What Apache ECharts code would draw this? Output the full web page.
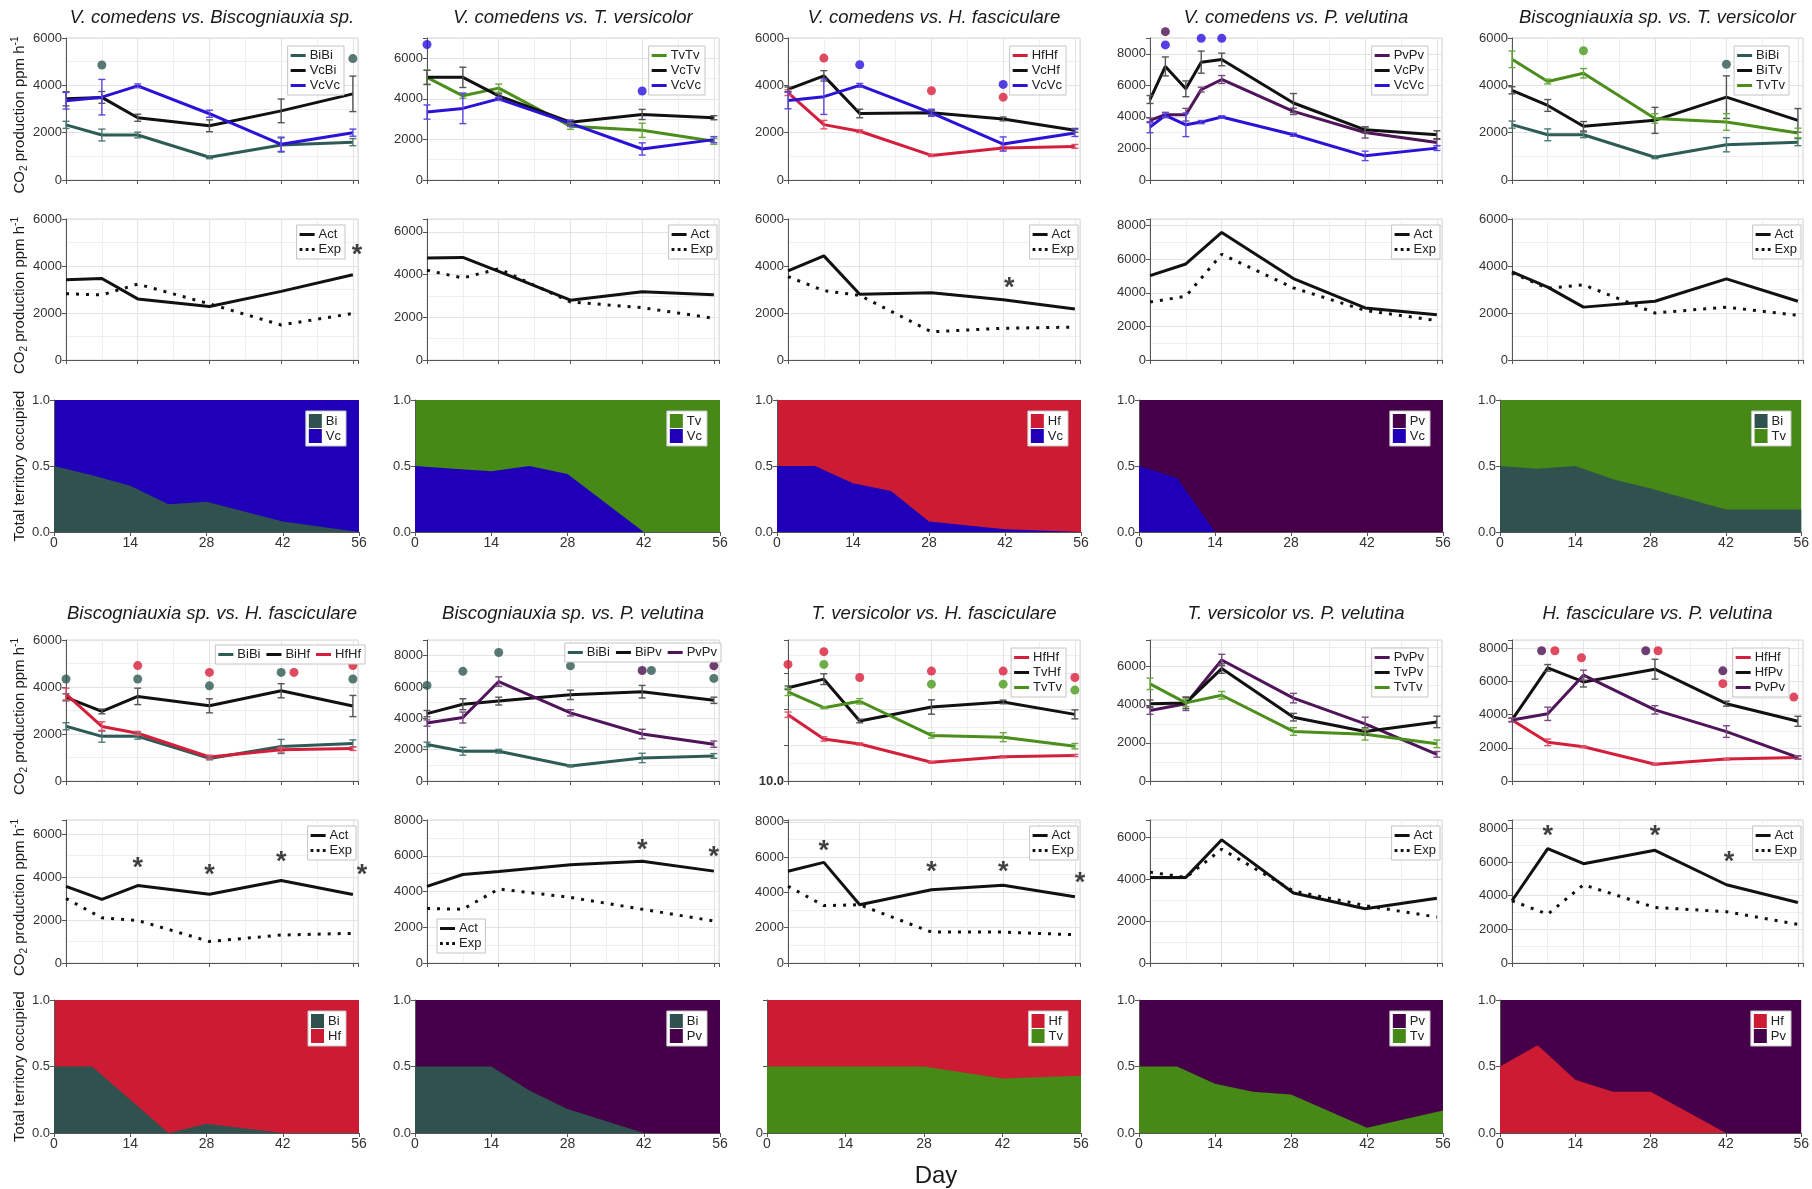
<!DOCTYPE html>
<html><head><meta charset="utf-8">
<script src="https://cdn.jsdelivr.net/npm/echarts@6/dist/echarts.min.js"></script>
<style>html,body{margin:0;padding:0;background:#fff}#c{width:1812px;height:1189px}</style>
</head><body><div id="c"></div>
<script>
// ---------------- DATA ----------------
const days = [0, 7, 14, 28, 42, 56];
const daysVcPv = [0, 3, 7, 10, 14, 28, 42, 56];
const tDays = [0, 7, 14, 21, 28, 42, 56];
const xTicks = [0, 14, 28, 42, 56];

// Panel 1: V. comedens vs. Biscogniauxia sp.
const p1_BiBi = [2330, 1900, 1900, 960, 1480, 1600];
const p1_BiBi_err = [150, 250, 120, 60, 300, 150];
const p1_VcBi = [3430, 3490, 2630, 2290, 2920, 3640];
const p1_VcBi_err = [300, 250, 150, 250, 500, 750];
const p1_VcVc = [3350, 3500, 3980, 2800, 1510, 2000];
const p1_VcVc_err = [350, 750, 80, 150, 300, 150];
const p1_dots = [[7, 4860, 'Bi'], [56, 5130, 'Bi']];
const p1_act = [3410, 3470, 2600, 2280, 2920, 3630];
const p1_exp = [2820, 2770, 3230, 2390, 1490, 1980];
const p1_stars = [[56.8, 4750]];
const p1_terr = [0.5, 0.43, 0.35, 0.21, 0.23, 0.08, 0.0];

// Panel 2: V. comedens vs. T. versicolor
const p2_TvTv = [5060, 4150, 4530, 2650, 2450, 1910];
const p2_TvTv_err = [350, 120, 200, 150, 350, 150];
const p2_VcTv = [5060, 5060, 4150, 2850, 3230, 3070];
const p2_VcTv_err = [350, 500, 100, 100, 250, 100];
const p2_VcVc = [3350, 3530, 4000, 2790, 1530, 1990];
const p2_VcVc_err = [350, 750, 80, 150, 300, 150];
const p2_dots = [[0, 6680, 'Vc'], [42, 4390, 'Vc']];
const p2_act = [4780, 4800, 4150, 2800, 3200, 3050];
const p2_exp = [4200, 3840, 4270, 2720, 2450, 1950];
const p2_stars = [];
const p2_terr = [0.5, 0.48, 0.46, 0.5, 0.44, 0.0, 0.0];

// Panel 3: V. comedens vs. H. fasciculare
const p3_HfHf = [3690, 2340, 2060, 1040, 1350, 1420];
const p3_HfHf_err = [120, 180, 60, 50, 80, 80];
const p3_VcHf = [3830, 4400, 2810, 2840, 2580, 2100];
const p3_VcHf_err = [100, 220, 180, 100, 80, 80];
const p3_VcVc = [3360, 3520, 4000, 2840, 1520, 1990];
const p3_VcVc_err = [350, 750, 80, 150, 300, 150];
const p3_dots = [[7, 5150, 'Hf'], [14, 4870, 'Vc'], [28, 3770, 'Hf'], [42, 4040, 'Vc'], [42, 3500, 'Hf']];
const p3_act = [3790, 4430, 2800, 2860, 2560, 2170];
const p3_exp = [3550, 2950, 2750, 1200, 1350, 1400];
const p3_stars = [[43.2, 3320]];
const p3_terr = [0.5, 0.5, 0.37, 0.31, 0.08, 0.02, 0.0];

// Panel 4: V. comedens vs. P. velutina
const p4_PvPv = [3780, 4140, 4140, 5730, 6370, 4350, 3010, 2380];
const p4_PvPv_err = [150, 150, 400, 150, 250, 200, 350, 200];
const p4_VcPv = [5100, 7200, 5780, 7470, 7640, 4880, 3180, 2870];
const p4_VcPv_err = [250, 600, 500, 700, 400, 600, 200, 250];
const p4_VcVc = [3350, 4100, 3500, 3670, 3990, 2870, 1530, 2020];
const p4_VcVc_err = [350, 150, 750, 100, 80, 100, 300, 150];
const p4_dots = [[3, 9400, 'Pv'], [3, 8560, 'Vc'], [10, 8980, 'Vc'], [14, 8980, 'Vc']];
const p4_act = [5030, 5720, 7600, 4850, 3100, 2700];
const p4_exp = [3450, 3800, 6300, 4300, 2950, 2350];
const p4_stars = [];
const p4_terr = [0.5, 0.41, 0.0, 0.0, 0.0, 0.0, 0.0];

// Panel 5: Biscogniauxia sp. vs. T. versicolor
const p5_BiBi = [2340, 1910, 1910, 960, 1490, 1600];
const p5_BiBi_err = [150, 250, 120, 60, 300, 150];
const p5_BiTv = [3790, 3150, 2270, 2520, 3500, 2520];
const p5_BiTv_err = [150, 250, 200, 550, 900, 500];
const p5_TvTv = [5100, 4160, 4510, 2600, 2450, 1990];
const p5_TvTv_err = [350, 100, 200, 200, 350, 200];
const p5_dots = [[14, 5460, 'Tv'], [42, 4890, 'Bi']];
const p5_act = [3750, 3100, 2250, 2500, 3450, 2500];
const p5_exp = [3700, 3050, 3200, 2000, 2250, 1900];
const p5_stars = [];
const p5_terr = [0.5, 0.48, 0.5, 0.4, 0.33, 0.17, 0.17];

// Panel 6: Biscogniauxia sp. vs. H. fasciculare
const p6_BiBi = [2330, 1900, 1900, 960, 1470, 1600];
const p6_BiBi_err = [150, 250, 120, 60, 300, 150];
const p6_BiHf = [3560, 2960, 3600, 3200, 3840, 3190];
const p6_BiHf_err = [150, 100, 350, 300, 300, 450];
const p6_HfHf = [3700, 2320, 2030, 1020, 1330, 1380];
const p6_HfHf_err = [250, 200, 80, 80, 100, 80];
const p6_dots = [[0, 4340, 'Bi'], [14, 4910, 'Hf'], [14, 4340, 'Bi'], [28, 4620, 'Hf'], [28, 4050, 'Bi'],
                 [42, 4620, 'Bi'], [44.5, 4620, 'Hf'], [56, 4910, 'Hf'], [56, 4340, 'Bi']];
const p6_act = [3560, 2960, 3600, 3200, 3840, 3190];
const p6_exp = [3000, 2100, 1980, 1000, 1300, 1380];
const p6_stars = [[14, 4740], [28, 4370], [42, 4980], [57.8, 4370]];
const p6_terr = [0.5, 0.5, 0.25, 0.0, 0.07, 0.0, 0.0];

// Panel 7: Biscogniauxia sp. vs. P. velutina
const p7_BiBi = [2330, 1900, 1900, 960, 1470, 1600];
const p7_BiBi_err = [150, 250, 120, 60, 300, 150];
const p7_BiPv = [4300, 4900, 5100, 5500, 5700, 5150];
const p7_BiPv_err = [200, 350, 250, 300, 400, 200];
const p7_PvPv = [3700, 4050, 6350, 4350, 3000, 2350];
const p7_PvPv_err = [200, 350, 300, 200, 300, 200];
const p7_dots = [[0, 6100, 'Bi'], [7, 7000, 'Bi'], [14, 8200, 'Bi'], [28, 7350, 'Bi'], [42, 7050, 'Pv'],
                 [43.8, 7050, 'Bi'], [56, 7350, 'Pv'], [56, 6550, 'Bi']];
const p7_act = [4290, 4950, 5120, 5500, 5690, 5140];
const p7_exp = [3050, 3010, 4140, 3670, 3010, 2350];
const p7_stars = [[42, 6700], [56, 6300]];
const p7_terr = [0.5, 0.5, 0.5, 0.32, 0.18, 0.0, 0.0];

// Panel 8: T. versicolor vs. H. fasciculare
const p8_HfHf = [3690, 2340, 2060, 1040, 1350, 1420];
const p8_HfHf_err = [150, 120, 60, 50, 60, 60];
const p8_TvHf = [5190, 5670, 3340, 4120, 4400, 3710];
const p8_TvHf_err = [100, 300, 100, 400, 100, 250];
const p8_TvTv = [4960, 4080, 4440, 2540, 2440, 1940];
const p8_TvTv_err = [200, 50, 150, 150, 250, 150];
const p8_dots = [[0, 6490, 'Hf'], [7, 7200, 'Hf'], [7, 6490, 'Tv'], [14, 5760, 'Hf'], [28, 6120, 'Hf'],
                 [28, 5390, 'Tv'], [42, 6120, 'Hf'], [42, 5390, 'Tv'], [56, 5760, 'Hf'], [56, 5060, 'Tv']];
const p8_act = [5200, 5700, 3300, 4150, 4400, 3750];
const p8_exp = [4350, 3250, 3300, 1750, 1750, 1600];
const p8_stars = [[7, 6690], [28, 5520], [42, 5520], [57, 4870]];
const p8_terr = [0.5, 0.5, 0.5, 0.5, 0.5, 0.41, 0.43];

// Panel 9: T. versicolor vs. P. velutina
const p9_PvPv = [3700, 4050, 6350, 4350, 3000, 1400];
const p9_PvPv_err = [200, 350, 300, 250, 350, 150];
const p9_TvPv = [4050, 4100, 5900, 3350, 2600, 3100];
const p9_TvPv_err = [200, 300, 250, 200, 200, 300];
const p9_TvTv = [5100, 4100, 4500, 2600, 2450, 1950];
const p9_TvTv_err = [300, 200, 200, 200, 300, 200];
const p9_dots = [];
const p9_act = [4100, 4100, 5900, 3350, 2600, 3100];
const p9_exp = [4350, 4100, 5450, 3450, 2750, 2200];
const p9_stars = [];
const p9_terr = [0.5, 0.5, 0.37, 0.31, 0.29, 0.04, 0.17];

// Panel 10: H. fasciculare vs. P. velutina
const p10_HfHf = [3680, 2330, 2060, 1010, 1320, 1420];
const p10_HfHf_err = [100, 200, 50, 50, 50, 80];
const p10_HfPv = [3680, 6820, 5970, 6740, 4660, 3600];
const p10_HfPv_err = [100, 200, 300, 600, 150, 300];
const p10_PvPv = [3680, 4050, 6380, 4290, 2980, 1420];
const p10_PvPv_err = [100, 400, 300, 250, 350, 100];
const p10_dots = [[5.8, 7850, 'Pv'], [8.4, 7850, 'Hf'], [13.6, 7430, 'Hf'], [26.2, 7850, 'Pv'], [28.6, 7850, 'Hf'],
                  [41.3, 6640, 'Pv'], [41.3, 5870, 'Hf'], [55.2, 5060, 'Hf']];
const p10_act = [3700, 6800, 5900, 6700, 4650, 3600];
const p10_exp = [3700, 2900, 4650, 3300, 3050, 2300];
const p10_stars = [[7, 7930], [28, 7930], [42.5, 6370]];
const p10_terr = [0.5, 0.66, 0.4, 0.31, 0.31, 0.0, 0.0];

// ---------------- STYLE ----------------
const FONT = '"Liberation Sans", Arial, Helvetica, sans-serif';
const COL = {Bi: '#2f5b56', Vc: '#2a12d6', Tv: '#4b8e1b', Hf: '#d31f3b', Pv: '#4f1459', K: '#111111'};
const ERR = {Bi: '#4d7a74', Vc: '#5a48e0', Tv: '#6aa840', Hf: '#e0506a', Pv: '#7a4a82', K: '#555555'};
const DOT = {Bi: '#2f5752', Vc: '#2a10e0', Tv: '#4a9a1a', Hf: '#d81e3a', Pv: '#4a0f4f'};
const FILL = {Bi: '#2f524f', Vc: '#1f00b8', Tv: '#468916', Hf: '#cc1b33', Pv: '#46004a'};
const DOTTED_ICON = 'path://M0,0h3v3h-3zM6.5,0h3v3h-3zM13,0h3v3h-3z';

const COLS = [66, 427, 788, 1150, 1512];
const COLR = [358, 719, 1080, 1442, 1803];
const TERRL = [54, 415, 777, 1139, 1500];
const BLOCKS = [
  {A: [38, 180], B: [219, 360], C: [400, 532], titleY: 18},
  {A: [640, 781], B: [820, 963], C: [1000, 1133], titleY: 614}
];

const panels = [
  {title: 'V. comedens vs. Biscogniauxia sp.', block: 0, col: 0,
   co2: {x: days, max: 6000, series: [['BiBi', 'Bi', p1_BiBi, p1_BiBi_err], ['VcBi', 'K', p1_VcBi, p1_VcBi_err], ['VcVc', 'Vc', p1_VcVc, p1_VcVc_err]], dots: p1_dots},
   ae: {act: p1_act, exp: p1_exp, max: 6000, stars: p1_stars, legR: 13},
   terr: {vals: p1_terr, lower: 'Bi', upper: 'Vc', legend: ['Bi', 'Vc']}},
  {title: 'V. comedens vs. T. versicolor', block: 0, col: 1,
   co2: {x: days, max: 7000, series: [['TvTv', 'Tv', p2_TvTv, p2_TvTv_err], ['VcTv', 'K', p2_VcTv, p2_VcTv_err], ['VcVc', 'Vc', p2_VcVc, p2_VcVc_err]], dots: p2_dots},
   ae: {act: p2_act, exp: p2_exp, max: 6600, stars: p2_stars},
   terr: {vals: p2_terr, lower: 'Vc', upper: 'Tv', legend: ['Tv', 'Vc']}},
  {title: 'V. comedens vs. H. fasciculare', block: 0, col: 2,
   co2: {x: days, max: 6000, series: [['HfHf', 'Hf', p3_HfHf, p3_HfHf_err], ['VcHf', 'K', p3_VcHf, p3_VcHf_err], ['VcVc', 'Vc', p3_VcVc, p3_VcVc_err]], dots: p3_dots},
   ae: {act: p3_act, exp: p3_exp, max: 6000, stars: p3_stars},
   terr: {vals: p3_terr, lower: 'Vc', upper: 'Hf', legend: ['Hf', 'Vc']}},
  {title: 'V. comedens vs. P. velutina', block: 0, col: 3,
   co2: {x: daysVcPv, max: 9000, series: [['PvPv', 'Pv', p4_PvPv, p4_PvPv_err], ['VcPv', 'K', p4_VcPv, p4_VcPv_err], ['VcVc', 'Vc', p4_VcVc, p4_VcVc_err]], dots: p4_dots},
   ae: {act: p4_act, exp: p4_exp, max: 8400, stars: p4_stars},
   terr: {vals: p4_terr, lower: 'Vc', upper: 'Pv', legend: ['Pv', 'Vc']}},
  {title: 'Biscogniauxia sp. vs. T. versicolor', block: 0, col: 4,
   co2: {x: days, max: 6000, series: [['BiBi', 'Bi', p5_BiBi, p5_BiBi_err], ['BiTv', 'K', p5_BiTv, p5_BiTv_err], ['TvTv', 'Tv', p5_TvTv, p5_TvTv_err]], dots: p5_dots},
   ae: {act: p5_act, exp: p5_exp, max: 6000, stars: p5_stars},
   terr: {vals: p5_terr, lower: 'Bi', upper: 'Tv', legend: ['Bi', 'Tv']}},
  {title: 'Biscogniauxia sp. vs. H. fasciculare', block: 1, col: 0,
   co2: {x: days, max: 6000, series: [['BiBi', 'Bi', p6_BiBi, p6_BiBi_err], ['BiHf', 'K', p6_BiHf, p6_BiHf_err], ['HfHf', 'Hf', p6_HfHf, p6_HfHf_err]], dots: p6_dots, horiz: {right: 1812 - 365, top: 645}},
   ae: {act: p6_act, exp: p6_exp, max: 6650, stars: p6_stars},
   terr: {vals: p6_terr, lower: 'Bi', upper: 'Hf', legend: ['Bi', 'Hf']}},
  {title: 'Biscogniauxia sp. vs. P. velutina', block: 1, col: 1,
   co2: {x: days, max: 9000, series: [['BiBi', 'Bi', p7_BiBi, p7_BiBi_err], ['BiPv', 'K', p7_BiPv, p7_BiPv_err], ['PvPv', 'Pv', p7_PvPv, p7_PvPv_err]], dots: p7_dots, horiz: {right: 1812 - 721, top: 643}},
   ae: {act: p7_act, exp: p7_exp, max: 8000, stars: p7_stars, legPos: {left: 437, top: 919}},
   terr: {vals: p7_terr, lower: 'Bi', upper: 'Pv', legend: ['Bi', 'Pv']}},
  {title: 'T. versicolor vs. H. fasciculare', block: 1, col: 2,
   co2: {x: days, max: 7850, broken: true, series: [['HfHf', 'Hf', p8_HfHf, p8_HfHf_err], ['TvHf', 'K', p8_TvHf, p8_TvHf_err], ['TvTv', 'Tv', p8_TvTv, p8_TvTv_err]], dots: p8_dots},
   ae: {act: p8_act, exp: p8_exp, max: 8100, stars: p8_stars},
   terr: {vals: p8_terr, lower: 'Tv', upper: 'Hf', legend: ['Hf', 'Tv'], zeroOnly: true, left: 767}},
  {title: 'T. versicolor vs. P. velutina', block: 1, col: 3,
   co2: {x: days, max: 7400, series: [['PvPv', 'Pv', p9_PvPv, p9_PvPv_err], ['TvPv', 'K', p9_TvPv, p9_TvPv_err], ['TvTv', 'Tv', p9_TvTv, p9_TvTv_err]], dots: p9_dots},
   ae: {act: p9_act, exp: p9_exp, max: 6850, stars: p9_stars},
   terr: {vals: p9_terr, lower: 'Tv', upper: 'Pv', legend: ['Pv', 'Tv']}},
  {title: 'H. fasciculare vs. P. velutina', block: 1, col: 4,
   co2: {x: days, max: 8500, series: [['HfHf', 'Hf', p10_HfHf, p10_HfHf_err], ['HfPv', 'K', p10_HfPv, p10_HfPv_err], ['PvPv', 'Pv', p10_PvPv, p10_PvPv_err]], dots: p10_dots},
   ae: {act: p10_act, exp: p10_exp, max: 8500, stars: p10_stars},
   terr: {vals: p10_terr, lower: 'Hf', upper: 'Pv', legend: ['Hf', 'Pv']}}
];

// ---------------- BUILD ----------------
const option = {animation: false, backgroundColor: '#ffffff', grid: [], xAxis: [], yAxis: [], series: [], legend: [], graphic: []};
const zip = (x, y) => x.map((d, i) => [d, y[i]]);

function addGrid(l, t, r, b, ymax, kind, extra) {
  extra = extra || {};
  const gi = option.grid.length;
  const terr = kind === 'terr';
  option.grid.push({left: l, top: t, width: r - l, height: b - t, show: true,
    borderColor: terr ? 'transparent' : '#d6d6d6', borderWidth: 1,
    backgroundColor: extra.bg || 'transparent'});
  option.xAxis.push({type: 'value', gridIndex: gi, min: 0, max: terr ? 56 : 57, interval: 14,
    axisLine: {show: true, lineStyle: {color: '#555', width: 1}},
    axisTick: {show: true, length: 4, lineStyle: {color: '#555'}},
    axisLabel: {show: terr, fontSize: 14, color: '#333', fontFamily: FONT, margin: 4,
      formatter: v => (xTicks.includes(v) ? String(v) : '')},
    splitLine: {show: !terr, lineStyle: {color: '#e4e4e4'}},
    minorTick: {show: false, splitNumber: 2},
    minorSplitLine: {show: !terr, lineStyle: {color: '#efefef'}}});
  let fmt;
  if (terr) fmt = extra.zeroOnly ? (v => (v === 0 ? '0' : '')) : (v => v.toFixed(1));
  else if (extra.broken) fmt = v => (v === 0 ? '10.0' : '');
  else fmt = v => (v % 2000 === 0 ? String(v) : '');
  option.yAxis.push({type: 'value', gridIndex: gi, min: 0, max: ymax, interval: terr ? 0.5 : 2000,
    axisLine: {show: true, lineStyle: {color: '#555', width: 1}},
    axisTick: {show: true, length: 4, lineStyle: {color: '#555'}},
    axisLabel: {fontSize: 13, color: '#333', fontFamily: FONT, margin: 4, formatter: fmt,
      fontWeight: extra.broken ? 'bold' : 'normal'},
    splitLine: {show: !terr, lineStyle: {color: '#e4e4e4'}},
    minorTick: {show: false, splitNumber: 2},
    minorSplitLine: {show: !terr, lineStyle: {color: '#efefef'}}});
  return gi;
}

function errSeries(gi, x, y, e, color) {
  return {type: 'custom', xAxisIndex: gi, yAxisIndex: gi, silent: true, z: 4,
    data: x.map((d, i) => [d, y[i] - e[i], y[i] + e[i]]),
    encode: {x: 0, y: [1, 2]},
    renderItem: (params, api) => {
      const lo = api.coord([api.value(0), api.value(1)]);
      const hi = api.coord([api.value(0), api.value(2)]);
      const w = 3.5, st = {stroke: color, lineWidth: 1.4};
      return {type: 'group', children: [
        {type: 'line', shape: {x1: lo[0], y1: lo[1], x2: hi[0], y2: hi[1]}, style: st},
        {type: 'line', shape: {x1: lo[0] - w, y1: lo[1], x2: lo[0] + w, y2: lo[1]}, style: st},
        {type: 'line', shape: {x1: hi[0] - w, y1: hi[1], x2: hi[0] + w, y2: hi[1]}, style: st}]};
    }};
}

function legendBox(items, pos, opts) {
  opts = opts || {};
  option.legend.push(Object.assign({
    data: items, orient: opts.orient || 'vertical', itemGap: opts.gap != null ? opts.gap : 2,
    itemWidth: opts.iw || 15, itemHeight: opts.ih || 3, padding: opts.pad || [3, 4, 3, 3],
    borderColor: '#c4c4c4', borderWidth: 1, backgroundColor: '#ffffff', selectedMode: false,
    textStyle: {fontSize: 13, color: '#222', fontFamily: FONT, padding: [0, 0, 0, -1]},
    icon: opts.icon || 'rect', z: 10
  }, pos));
}

function text(str, x, y, size, extra) {
  option.graphic.push(Object.assign({type: 'text', x: x, y: y, z: 20, silent: true,
    style: Object.assign({text: str, fontSize: size, fontFamily: FONT, fill: '#1a1a1a',
      align: 'center', verticalAlign: 'middle', textAlign: 'center', textVerticalAlign: 'middle'}, (extra && extra.style) || {})},
    extra && extra.el || {}));
}

function starSeries(gi, stars) {
  if (!stars.length) return;
  option.series.push({type: 'scatter', xAxisIndex: gi, yAxisIndex: gi, silent: true, clip: false, z: 6,
    symbol: 'circle', symbolSize: 1, itemStyle: {color: 'rgba(0,0,0,0)'},
    data: stars,
    label: {show: true, formatter: '*', position: 'inside', fontSize: 27, fontWeight: 'bold',
      fontFamily: FONT, color: '#111', offset: [0, 7]}});
}

const co2Rich = {
  n: {fontSize: 15, fontFamily: FONT, color: '#1a1a1a'},
  s: {fontSize: 10, fontFamily: FONT, color: '#1a1a1a', padding: [9, 0, 0, 0]},
  p: {fontSize: 10, fontFamily: FONT, color: '#1a1a1a', padding: [0, 0, 9, 0]}
};
const co2Label = '{n|CO}{s|2}{n| production ppm h}{p|-1}';

panels.forEach(p => {
  const blk = BLOCKS[p.block], c = p.col;
  const L = COLS[c], R = COLR[c];
  text(p.title, (L + R) / 2, blk.titleY, 18.5, {style: {fontStyle: 'italic'}});

  // Row A: CO2 production of pairings
  const gA = addGrid(L, blk.A[0], R, blk.A[1], p.co2.max, 'co2', {broken: p.co2.broken});
  p.co2.series.forEach(([name, sp, vals, errs]) => {
    option.series.push({type: 'line', name: name, xAxisIndex: gA, yAxisIndex: gA, data: zip(p.co2.x, vals),
      symbol: 'none', z: 3, lineStyle: {width: 3, color: COL[sp]}, itemStyle: {color: COL[sp]}});
    option.series.push(errSeries(gA, p.co2.x, vals, errs, ERR[sp]));
  });
  if (p.co2.dots.length) {
    option.series.push({type: 'scatter', xAxisIndex: gA, yAxisIndex: gA, silent: true, clip: false, z: 5,
      symbolSize: 9, data: p.co2.dots.map(([d, v, sp]) => ({value: [d, v], itemStyle: {color: DOT[sp]}}))});
  }
  const names = p.co2.series.map(s => s[0]);
  if (p.co2.horiz) legendBox(names, p.co2.horiz, {orient: 'horizontal', gap: 6});
  else legendBox(names, {right: 1812 - R + 14, top: blk.A[0] + 8});

  // Row B: actual vs expected
  const gB = addGrid(L, blk.B[0], R, blk.B[1], p.ae.max, 'co2');
  option.series.push({type: 'line', name: 'Act', xAxisIndex: gB, yAxisIndex: gB, data: zip(days, p.ae.act),
    symbol: 'none', z: 3, lineStyle: {width: 3, color: '#111'}, itemStyle: {color: '#111'}});
  option.series.push({type: 'line', name: 'Exp', xAxisIndex: gB, yAxisIndex: gB, data: zip(days, p.ae.exp),
    symbol: 'none', z: 3, lineStyle: {width: 3, color: '#111', type: [3, 7], cap: 'butt'}, itemStyle: {color: '#111'}});
  starSeries(gB, p.ae.stars);
  legendBox([{name: 'Act', icon: 'rect'}, {name: 'Exp', icon: DOTTED_ICON}],
    p.ae.legPos || {right: 1812 - R + (p.ae.legR || 2), top: blk.B[0] + 6});

  // Row C: territory (upper species fills the plot background, lower species drawn as area)
  const tl = p.terr.left || TERRL[c];
  const gC = addGrid(tl, blk.C[0], R + 1, blk.C[1], 1, 'terr', {bg: FILL[p.terr.upper], zeroOnly: p.terr.zeroOnly});
  option.series.push({type: 'line', name: p.terr.lower, xAxisIndex: gC, yAxisIndex: gC,
    data: zip(tDays, p.terr.vals), symbol: 'none', z: 2, lineStyle: {width: 0},
    areaStyle: {color: FILL[p.terr.lower], opacity: 1, origin: 'start'}, itemStyle: {color: FILL[p.terr.lower]}});
  option.series.push({type: 'line', name: p.terr.upper, xAxisIndex: gC, yAxisIndex: gC,
    data: [], symbol: 'none', itemStyle: {color: FILL[p.terr.upper]}});
  legendBox(p.terr.legend, {right: 1812 - R + 12, top: blk.C[0] + 11},
    {icon: 'rect', iw: 13, ih: 14, gap: 1, pad: [3, 5, 3, 3]});
});

// axis titles
BLOCKS.forEach(blk => {
  [blk.A, blk.B].forEach(r => text(co2Label, 20, (r[0] + r[1]) / 2 + 6, 15,
    {style: {rich: co2Rich}, el: {rotation: Math.PI / 2}}));
  text('Total territory occupied', 20, (blk.C[0] + blk.C[1]) / 2, 15, {el: {rotation: Math.PI / 2}});
});
text('Day', 936, 1176, 24);

const chart = echarts.init(document.getElementById('c'), null, {renderer: 'canvas'});
chart.setOption(option);
</script></body></html>
